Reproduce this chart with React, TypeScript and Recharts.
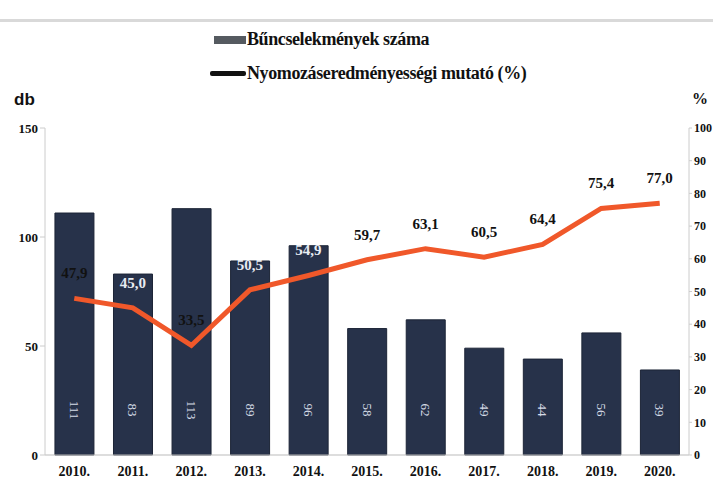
import React from 'react';
import {
  ComposedChart,
  Bar,
  Line,
  XAxis,
  YAxis,
  Legend,
  LabelList,
} from 'recharts';

// Values
const years = ['2010.', '2011.', '2012.', '2013.', '2014.', '2015.', '2016.', '2017.', '2018.', '2019.', '2020.'];
const crimeCounts = [111, 83, 113, 89, 96, 58, 62, 49, 44, 56, 39];
const successRates = [47.9, 45.0, 33.5, 50.5, 54.9, 59.7, 63.1, 60.5, 64.4, 75.4, 77.0];
const leftTicks = [0, 50, 100, 150];
const rightTicks = [0, 10, 20, 30, 40, 50, 60, 70, 80, 90, 100];

const data = years.map((year, i) => ({
  year,
  count: crimeCounts[i],
  rate: successRates[i],
}));

const SERIF = '"Liberation Serif", "Times New Roman", serif';
const BAR_COLOR = '#27324a';
const LINE_COLOR = '#f0582a';

// line labels that sit on top of a bar are drawn light
const lightLabels = new Set([1, 3, 4]);

const fmt = (v: number) => v.toFixed(1).replace('.', ',');

const RateLabel = (props: any) => {
  const { x, y, value, index } = props;
  return (
    <text
      x={x}
      y={y - 20}
      textAnchor="middle"
      fontFamily={SERIF}
      fontWeight="bold"
      fontSize={15}
      fill={lightLabels.has(index) ? '#e8ecf2' : '#111'}
    >
      {fmt(value)}
    </text>
  );
};

const CountLabel = (props: any) => {
  const { x, y, width, height, value } = props;
  const cx = x + width / 2;
  const cy = y + height - 45;
  return (
    <text
      x={cx}
      y={cy}
      transform={`rotate(90 ${cx} ${cy})`}
      textAnchor="middle"
      dominantBaseline="central"
      fontFamily={SERIF}
      fontSize={13}
      fill="#d5dbe6"
    >
      {value}
    </text>
  );
};

const LegendContent = () => (
  <div style={{ fontFamily: SERIF, fontWeight: 'bold', fontSize: 18, color: '#111' }}>
    <div style={{ position: 'absolute', left: 214, top: 29, display: 'flex', alignItems: 'center' }}>
      <span style={{ display: 'inline-block', width: 32, height: 8, background: '#555a60', marginRight: 1 }} />
      <span style={{ letterSpacing: -0.4 }}>Bűncselekmények száma</span>
    </div>
    <div style={{ position: 'absolute', left: 210, top: 63, display: 'flex', alignItems: 'center' }}>
      <span style={{ display: 'inline-block', width: 36, height: 5, background: '#111', marginRight: 1, borderRadius: 2 }} />
      <span style={{ letterSpacing: -0.4 }}>Nyomozáseredményességi mutató (%)</span>
    </div>
  </div>
);

export default function App() {
  return (
    <div style={{ position: 'relative', width: 713, height: 478, background: '#fff' }}>
      <style>{'body{margin:0;}'}</style>
      <div style={{ position: 'absolute', left: 0, top: 19, width: 713, height: 3, background: '#d9d9d9' }} />
      <div
        style={{
          position: 'absolute',
          left: 14,
          top: 90,
          fontFamily: '"Liberation Sans", Arial, sans-serif',
          fontWeight: 'bold',
          fontSize: 17,
          color: '#111',
        }}
      >
        db
      </div>
      <div
        style={{
          position: 'absolute',
          left: 692,
          top: 90,
          fontFamily: SERIF,
          fontWeight: 'bold',
          fontSize: 16,
          color: '#111',
        }}
      >
        %
      </div>
      <ComposedChart
        width={713}
        height={478}
        data={data}
        margin={{ top: 128, right: 0, bottom: 0, left: 0 }}
        barCategoryGap="17%"
      >
        <Legend
          layout="vertical"
          align="center"
          verticalAlign="top"
          content={<LegendContent />}
          wrapperStyle={{ top: 0, left: 0, width: 713, height: 0 }}
        />
        <XAxis
          dataKey="year"
          height={23}
          tickLine={false}
          axisLine={{ stroke: '#bbb' }}
          tick={{ fontFamily: SERIF, fontWeight: 'bold', fontSize: 14, fill: '#111' }}
          tickMargin={5}
          interval={0}
        />
        <YAxis
          yAxisId="left"
          width={45}
          domain={[0, 150]}
          ticks={leftTicks}
          axisLine={{ stroke: '#ccc' }}
          tickLine={{ stroke: '#ccc' }}
          tickSize={5}
          tick={{ fontFamily: SERIF, fontWeight: 'bold', fontSize: 13, fill: '#111' }}
        />
        <YAxis
          yAxisId="right"
          orientation="right"
          width={24}
          domain={[0, 100]}
          ticks={rightTicks}
          axisLine={{ stroke: '#ccc' }}
          tickLine={{ stroke: '#ccc' }}
          tickSize={3}
          tick={{ fontFamily: SERIF, fontWeight: 'bold', fontSize: 12, fill: '#111' }}
        />
        <Bar yAxisId="left" dataKey="count" fill={BAR_COLOR} stroke="#1c2436" isAnimationActive={false}>
          <LabelList dataKey="count" content={<CountLabel />} />
        </Bar>
        <Line
          yAxisId="right"
          dataKey="rate"
          type="linear"
          stroke={LINE_COLOR}
          strokeWidth={5}
          dot={false}
          isAnimationActive={false}
        >
          <LabelList dataKey="rate" content={<RateLabel />} />
        </Line>
      </ComposedChart>
    </div>
  );
}
